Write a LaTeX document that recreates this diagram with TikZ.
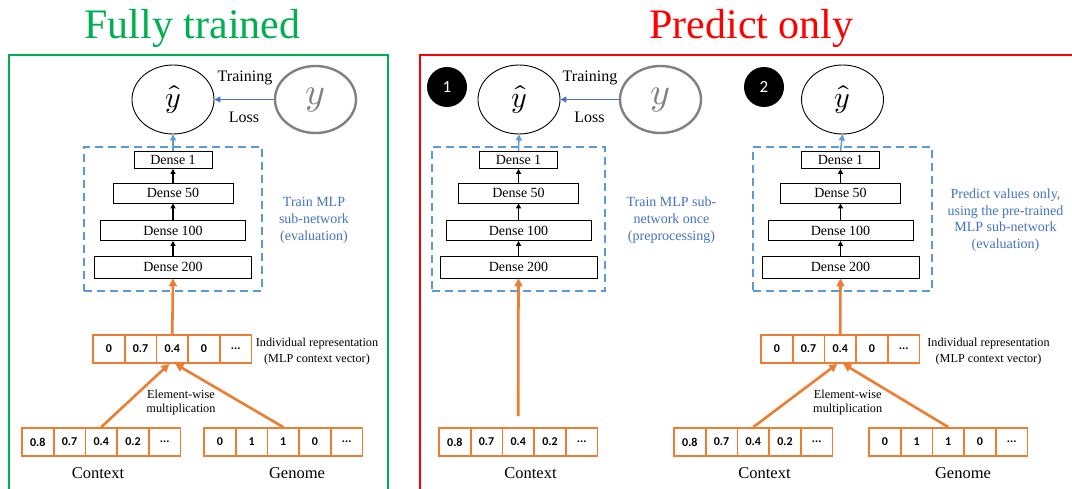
\documentclass[tikz,border=0pt]{standalone}
\usepackage{fontspec}
\usepackage{unicode-math}
\setmainfont{Liberation Serif}
\setmathfont{Latin Modern Math}
\newfontfamily\cellfont{Carlito}
\newfontfamily\titlefont{Liberation Serif}
\usetikzlibrary{shapes.geometric,arrows.meta}
\definecolor{cgreen}{HTML}{00B050}
\definecolor{cred}{HTML}{FF0000}
\definecolor{corange}{HTML}{ED7D31}
\definecolor{clblue}{HTML}{5B9BD5}
\definecolor{cblue}{HTML}{4472C4}
\definecolor{cgray}{HTML}{808080}
\newcommand\mydots{...}
\newcommand\bigtitle[1]{\scalebox{3}{\titlefont\fontsize{14}{16}\selectfont #1}}
\tikzset{
  titletext/.style={anchor=base,inner sep=0pt},
  panelframe/.style={line width=2.5pt},
  dense/.style={draw=black,line width=0.9pt,fill=white,inner sep=0pt,font=\fontsize{14}{16}\selectfont},
  mlpbox/.style={draw=clblue,line width=2.5pt,dash pattern=on 8pt off 5pt,minimum height=144pt,inner sep=0pt},
  yhatnode/.style={draw=black,line width=0.9pt,ellipse,minimum width=82pt,minimum height=69pt,inner sep=0pt,font=\fontsize{30}{32}\selectfont},
  ynode/.style={draw=cgray,line width=2.4pt,ellipse,minimum width=81pt,minimum height=67pt,inner sep=0pt,text=cgray,font=\fontsize{38}{40}\selectfont},
  blkarrow/.style={draw=black,line width=1.2pt,-{Triangle[length=5pt,width=5pt]}},
  bluearrow/.style={draw=clblue,line width=1.5pt,-{Triangle[length=6pt,width=6pt]}},
  lossarrow/.style={draw=cblue,line width=1.3pt,-{Triangle[length=6pt,width=6pt]}},
  orarrow/.style={draw=corange,line width=2.6pt,-{Triangle[length=8pt,width=8pt]}},
  bluetext/.style={text=cblue,align=center,font=\fontsize{14}{17}\selectfont},
  smalltext/.style={align=center,font=\fontsize{12.2}{16}\selectfont},
  labeltext/.style={font=\fontsize{16.5}{18}\selectfont},
  losstext/.style={font=\fontsize{16}{18}\selectfont},
  vcell/.style={draw=corange,line width=1.8pt,minimum width=31.7pt,minimum height=28pt,inner sep=0pt,fill=white,font=\cellfont\bfseries\fontsize{12}{12}\selectfont},
  numcircle/.style={circle,fill=black,minimum size=40pt,inner sep=0pt,text=white,font=\cellfont\fontsize{17}{18}\selectfont}
}
\newcommand\cellrow[4]{%
  \foreach \v [count=\i] in {#4} {
    \node[vcell] (#1-\i) at ({#2+(\i-0.5)*31.7},#3) {\v};
  }%
}
\newcommand\mlpstack[2]{% prefix, center x of dense stack
  \node[dense,minimum width=78pt,minimum height=17pt] (#1d1) at (#2,160) {Dense 1};
  \node[dense,minimum width=120pt,minimum height=20pt] (#1d50) at (#2,193) {Dense 50};
  \node[dense,minimum width=145pt,minimum height=20pt] (#1d100) at (#2,230.5) {Dense 100};
  \node[dense,minimum width=157pt,minimum height=22pt] (#1d200) at (#2,267) {Dense 200};
  \draw[blkarrow] (#1d200.north) -- (#1d100.south);
  \draw[blkarrow] (#1d100.north) -- (#1d50.south);
  \draw[blkarrow] (#1d50.north) -- (#1d1.south);
}
\begin{document}
\begin{tikzpicture}[x=1pt,y=-1pt]
\useasboundingbox (0,0) rectangle (1072,489);
\clip (0,0) rectangle (1072,489);
\fill[white] (0,0) rectangle (1072,489);

% frames
\draw[panelframe,draw=cgreen] (9,55) rectangle (388,500);
\draw[panelframe,draw=cred] (420,55) rectangle (1090,500);

% titles
\node[titletext,text=cgreen] (tL) at (192.5,39) {\bigtitle{Fully trained}};
\node[titletext,text=cred] (tR) at (751.5,39) {\bigtitle{Predict only}};

% ---------------- left panel ----------------
\node[mlpbox,minimum width=178pt] (Lbox) at (173,219) {};
\mlpstack{L}{173}
\node[yhatnode] (Lyhat) at (173,99.5) {$\hat{y}$};
\node[ynode] (Ly) at (315.5,99.5) {$y$};
\draw[lossarrow] (Ly.west) -- (Lyhat.east);
\node[losstext] (Ltrain) at (245,78) {Training};
\node[losstext] (Lloss) at (244,117) {Loss};
\draw[bluearrow] (Ld1.north) -- (Lyhat.south);
\node[bluetext] (Ltxt) at (314,220) {Train MLP\\sub-network\\(evaluation)};

\cellrow{Lind}{93}{349}{0,0.7,0.4,0,\mydots}
\cellrow{Lctx}{22}{442}{0.8,0.7,0.4,0.2,\mydots}
\cellrow{Lgen}{204}{442}{0,1,1,0,\mydots}
\draw[orarrow] (Lind-3.north) -- (Ld200.south);
\draw[orarrow] (Lctx-3.north) -- ([xshift=-3pt]Lind-3.south);
\draw[orarrow] (Lgen-3.north) -- ([xshift=3pt]Lind-3.south);
\node[smalltext] (Lindtxt) at (317,352) {Individual representation\\(MLP context vector)};
\node[smalltext,font=\fontsize{12.3}{14}\selectfont] (Lmult) at (181,403) {Element-wise\\multiplication};
\node[labeltext] (Lctxlab) at (98,473) {Context};
\node[labeltext] (Lgenlab) at (297,473) {Genome};

% ---------------- panel 1 ----------------
\node[numcircle] (n1) at (447,87) {1};
\node[mlpbox,minimum width=173pt] (Abox) at (518.5,219) {};
\mlpstack{A}{518.5}
\node[yhatnode] (Ayhat) at (519,99.5) {$\hat{y}$};
\node[ynode] (Ay) at (660.5,99.5) {$y$};
\draw[lossarrow] (Ay.west) -- (Ayhat.east);
\node[losstext] (Atrain) at (590,78) {Training};
\node[losstext] (Aloss) at (589.5,117) {Loss};
\draw[bluearrow] (Ad1.north) -- (Ayhat.south);
\node[bluetext] (Atxt) at (671.5,220) {Train MLP sub-\\network once\\(preprocessing)};
\cellrow{Actx}{439}{442}{0.8,0.7,0.4,0.2,\mydots}
\coordinate (Astart) at ([yshift=11pt]Actx-3.north);
\draw[orarrow] (Astart) -- (Ad200.south);
\node[labeltext] (Actxlab) at (530.5,473) {Context};

% ---------------- panel 2 ----------------
\node[numcircle] (n2) at (764,87) {2};
\node[mlpbox,minimum width=179pt] (Bbox) at (842.5,219) {};
\mlpstack{B}{840.5}
\node[yhatnode] (Byhat) at (842.5,99.5) {$\hat{y}$};
\draw[bluearrow] (Bd1.north) -- (Byhat.south);
\node[bluetext,font=\fontsize{14}{16.7}\selectfont] (Btxt) at (1005.5,220) {Predict values only,\\using the pre-trained\\MLP sub-network\\(evaluation)};
\cellrow{Bind}{761}{349}{0,0.7,0.4,0,\mydots}
\cellrow{Bctx}{674}{442}{0.8,0.7,0.4,0.2,\mydots}
\cellrow{Bgen}{869}{442}{0,1,1,0,\mydots}
\draw[orarrow] (Bind-3.north) -- (Bd200.south);
\draw[orarrow] (Bctx-3.north) -- ([xshift=-3pt]Bind-3.south);
\draw[orarrow] (Bgen-3.north) -- ([xshift=3pt]Bind-3.south);
\node[smalltext] (Bindtxt) at (988.5,352) {Individual representation\\(MLP context vector)};
\node[smalltext,font=\fontsize{12.3}{14}\selectfont] (Bmult) at (847.7,403) {Element-wise\\multiplication};
\node[labeltext] (Bctxlab) at (764.5,473) {Context};
\node[labeltext] (Bgenlab) at (963,473) {Genome};
\end{tikzpicture}
\end{document}
